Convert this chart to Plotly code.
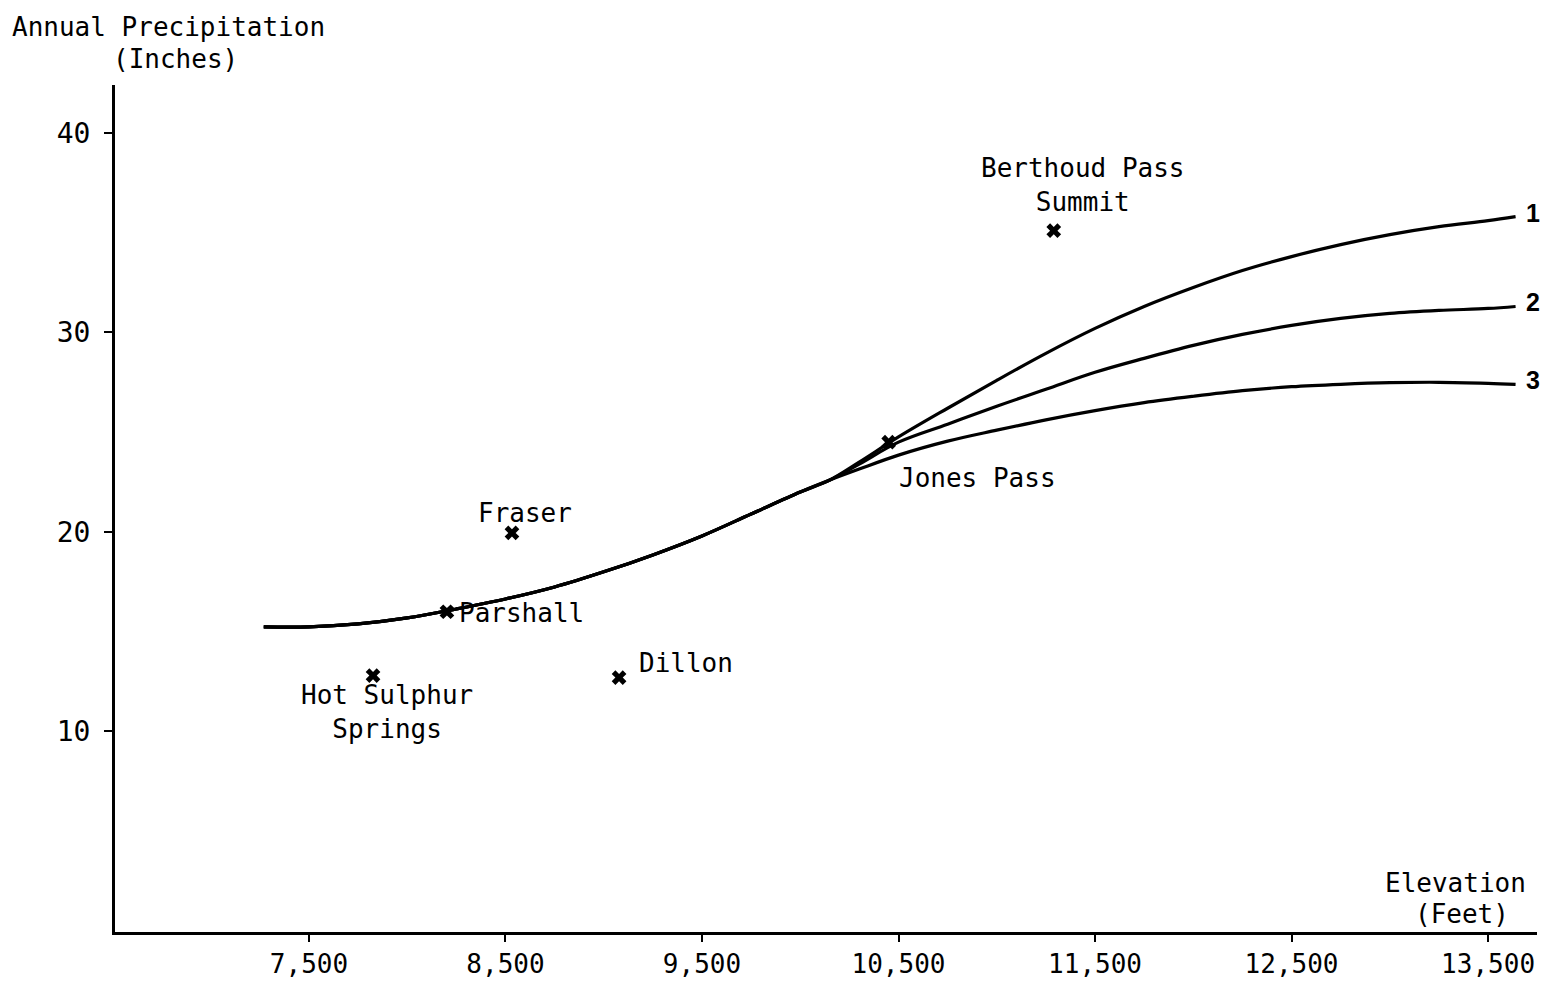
import plotly.graph_objects as go

# ---- data ----
common_elev = [7270, 7500, 7750, 8000, 8250, 8500, 8750, 9000, 9250, 9500, 9750, 10000, 10150]
common_prec = [15.24, 15.24, 15.39, 15.69, 16.14, 16.64, 17.24, 18.0, 18.85, 19.8, 20.9, 22.0, 22.6]

branch_elev = [10300, 10500, 10750, 11000, 11250, 11500, 11750, 12000, 12250, 12500, 12750, 13000, 13250, 13500, 13640]
curve1_prec = [23.5, 24.76, 26.2, 27.6, 28.95, 30.2, 31.3, 32.25, 33.1, 33.8, 34.4, 34.9, 35.3, 35.6, 35.8]
curve2_prec = [23.4, 24.5, 25.4, 26.3, 27.15, 28.0, 28.7, 29.35, 29.9, 30.35, 30.7, 30.95, 31.1, 31.2, 31.3]
curve3_prec = [23.15, 23.85, 24.55, 25.1, 25.62, 26.08, 26.48, 26.8, 27.08, 27.28, 27.4, 27.48, 27.5, 27.45, 27.4]
curve_names = ["1", "2", "3"]

stations = ["Berthoud Pass<br>Summit", "Jones Pass", "Fraser", "Parshall", "Hot Sulphur<br>Springs", "Dillon"]
station_elev = [11290, 10450, 8533, 8202, 7826, 9078]
station_prec = [35.1, 24.5, 19.95, 16.0, 12.8, 12.7]

x_tickvals = [7500, 8500, 9500, 10500, 11500, 12500, 13500]
x_ticktext = ["7,500", "8,500", "9,500", "10,500", "11,500", "12,500", "13,500"]
y_tickvals = [10, 20, 30, 40]
y_ticktext = ["10", "20", "30", "40"]

FONT = "DejaVu Sans Mono"
OFF = 8  # browser body margin
W, H = 1538, 973
L, R, T, B = 115 - OFF, 9, 85 - OFF, 49
pw, ph = W - L - R, H - T - B

def px(xp):
    return (xp - OFF - L) / pw

def py(yp):
    return (H - B - (yp - OFF)) / ph

fig = go.Figure()

for prec in (curve1_prec, curve2_prec, curve3_prec):
    fig.add_trace(go.Scatter(
        x=common_elev + branch_elev, y=common_prec + prec,
        mode="lines", line=dict(color="black", width=3.2, shape="spline", smoothing=1.0),
        hoverinfo="skip", showlegend=False))

fig.add_trace(go.Scatter(
    x=station_elev, y=station_prec, mode="markers",
    marker=dict(symbol="x", size=13, color="black", line=dict(width=0)),
    showlegend=False))

# station labels (offsets in pixels from the marker)
label_style = [
    dict(xanchor="center", yanchor="bottom", xshift=29, yshift=12, align="center"),   # Berthoud
    dict(xanchor="left", yanchor="middle", xshift=8, yshift=-36, align="left"),       # Jones
    dict(xanchor="left", yanchor="middle", xshift=-36, yshift=20, align="left"),      # Fraser
    dict(xanchor="left", yanchor="middle", xshift=10, yshift=-1, align="left"),       # Parshall
    dict(xanchor="center", yanchor="top", xshift=14, yshift=-2, align="center"),      # Hot Sulphur
    dict(xanchor="left", yanchor="middle", xshift=18, yshift=15, align="left"),       # Dillon
]
for name, xe, yp, st in zip(stations, station_elev, station_prec, label_style):
    fig.add_annotation(x=xe, y=yp, xref="x", yref="y", text=name, showarrow=False,
                       font=dict(family=FONT, size=26, color="black"), **st)

# curve end labels
for name, prec in zip(curve_names, (curve1_prec, curve2_prec, curve3_prec)):
    fig.add_annotation(x=branch_elev[-1], y=prec[-1], xref="x", yref="y", text="<b>" + name + "</b>",
                       showarrow=False, xanchor="left", yanchor="middle", xshift=9, yshift=4,
                       borderpad=0, font=dict(family="Liberation Sans", size=25, color="black"))

# axis titles
fig.add_annotation(x=px(10), y=py(27), xref="paper", yref="paper", text="Annual Precipitation",
                   showarrow=False, xanchor="left", yanchor="middle",
                   font=dict(family=FONT, size=26, color="black"))
fig.add_annotation(x=px(175), y=py(59), xref="paper", yref="paper", text="(Inches)",
                   showarrow=False, xanchor="center", yanchor="middle",
                   font=dict(family=FONT, size=26, color="black"))
fig.add_annotation(x=px(1455), y=py(883), xref="paper", yref="paper", text="Elevation",
                   showarrow=False, xanchor="center", yanchor="middle",
                   font=dict(family=FONT, size=26, color="black"))
fig.add_annotation(x=px(1462), y=py(914), xref="paper", yref="paper", text="(Feet)",
                   showarrow=False, xanchor="center", yanchor="middle",
                   font=dict(family=FONT, size=26, color="black"))

fig.update_xaxes(range=[6513, 13749], tickvals=x_tickvals, ticktext=x_ticktext,
                 showline=True, linecolor="black", linewidth=3, showgrid=False, zeroline=False,
                 ticks="outside", ticklen=7, tickwidth=2, tickcolor="black",
                 tickfont=dict(family=FONT, size=26, color="black"))
fig.update_yaxes(range=[-0.05, 42.4], tickvals=y_tickvals, ticktext=y_ticktext,
                 showline=True, linecolor="black", linewidth=3, showgrid=False, zeroline=False,
                 ticks="outside", ticklen=8, tickwidth=2, tickcolor="black", ticklabelstandoff=8,
                 tickfont=dict(family=FONT, size=28, color="black"))

fig.update_layout(width=W, height=H, margin=dict(l=L, r=R, t=T, b=B, autoexpand=False),
                  plot_bgcolor="white", paper_bgcolor="white", showlegend=False)

fig.write_html("out.html")
